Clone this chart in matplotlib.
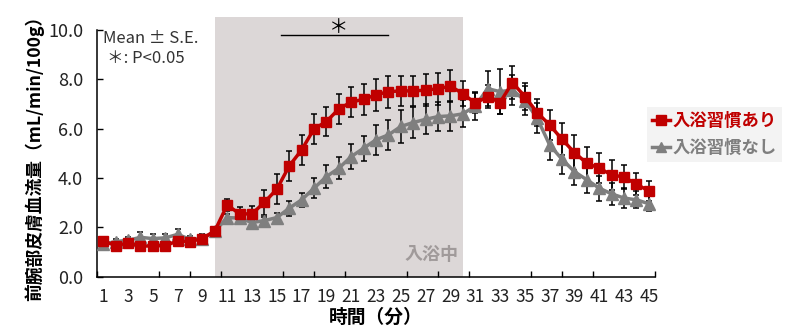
import matplotlib
matplotlib.use("Agg")
import matplotlib.pyplot as plt
from matplotlib.lines import Line2D
from matplotlib.patches import Rectangle
import numpy as np

plt.rcParams['font.family'] = ['Noto Sans CJK JP', 'DejaVu Sans']

# data (minutes 1..45)
minutes = list(range(1, 46))
with_habit = [1.45, 1.27, 1.37, 1.25, 1.25, 1.27, 1.45, 1.43, 1.55, 1.86,
              2.91, 2.55, 2.55, 3.02, 3.55, 4.49, 5.14, 5.99, 6.29, 6.80,
              7.08, 7.19, 7.37, 7.50, 7.53, 7.53, 7.56, 7.62, 7.72, 7.42,
              7.03, 7.30, 7.06, 7.87, 7.30, 6.65, 6.15, 5.57, 5.03, 4.60,
              4.40, 4.13, 4.04, 3.75, 3.48]
with_habit_se = [0.15, 0.15, 0.12, 0.20, 0.20, 0.20, 0.15, 0.12, 0.12, 0.10,
                 0.24, 0.29, 0.30, 0.50, 0.60, 0.60, 0.60, 0.60, 0.60, 0.60,
                 0.60, 0.62, 0.65, 0.65, 0.62, 0.62, 0.65, 0.65, 0.65, 0.50,
                 0.40, 0.45, 0.45, 0.65, 0.55, 0.55, 0.60, 0.65, 0.70, 0.65,
                 0.60, 0.60, 0.50, 0.45, 0.40]
no_habit = [1.32, 1.43, 1.48, 1.60, 1.55, 1.58, 1.72, 1.52, 1.55, 1.85,
            2.40, 2.38, 2.20, 2.28, 2.40, 2.78, 3.12, 3.59, 4.06, 4.40,
            4.87, 5.21, 5.55, 5.75, 6.09, 6.25, 6.38, 6.49, 6.52, 6.60,
            6.92, 7.62, 7.50, 7.57, 7.14, 6.42, 5.34, 4.76, 4.26, 3.93,
            3.59, 3.36, 3.19, 3.12, 2.96]
no_habit_se = [0.10, 0.12, 0.15, 0.20, 0.18, 0.15, 0.20, 0.15, 0.20, 0.10,
               0.15, 0.20, 0.15, 0.15, 0.20, 0.30, 0.28, 0.40, 0.47, 0.45,
               0.50, 0.50, 0.60, 0.60, 0.65, 0.62, 0.60, 0.60, 0.60, 0.55,
               0.55, 0.70, 0.90, 0.60, 0.60, 0.60, 0.60, 0.60, 0.55, 0.55,
               0.50, 0.45, 0.40, 0.35, 0.30]
bath_start, bath_end = 10, 30
sig_start, sig_end = 15.3, 24
labels = ['入浴習慣あり', '入浴習慣なし']

red = '#C00000'
gray = '#7F7F7F'

fig = plt.figure(figsize=(7.95, 3.36), dpi=100)
ax = fig.add_axes([0.122, 0.176, 0.702, 0.735])

# bathing period shading (extends a bit above the axis top)
ax.add_patch(Rectangle((bath_start, 0), bath_end - bath_start, 10.53,
                       facecolor='#DCD7D7', edgecolor='none', zorder=0, clip_on=False))
ax.text(27.5, 0.9, '入浴中', color='#A09A9A',
        fontsize=13, fontweight='bold', ha='center', va='center')

ax.errorbar(minutes, no_habit, yerr=no_habit_se, fmt='none', ecolor='black',
            elinewidth=1.1, capsize=2.5, capthick=1.1, zorder=2)
ax.errorbar(minutes, with_habit, yerr=with_habit_se, fmt='none', ecolor='black',
            elinewidth=1.1, capsize=2.5, capthick=1.1, zorder=2)
ax.plot(minutes, no_habit, color=gray, lw=2.5, marker='^', ms=8, zorder=3)
ax.plot(minutes, with_habit, color=red, lw=2.5, marker='s', ms=7.5, zorder=4)

# significance bar
ax.plot([sig_start, sig_end], [9.8, 9.8], color='black', lw=1)
ax.text(20, 10.1, '＊', fontsize=14, ha='center', va='center')

ax.text(1.0, 9.65, 'Mean ± S.E.', fontsize=12, ha='left', va='center', color='#333333')
ax.text(1.3, 8.85, '＊: P<0.05', fontsize=12, ha='left', va='center', color='#333333')

ax.set_xlim(0.5, 45.5)
ax.set_ylim(0, 10)
ax.set_xticks(minutes[::2])
ax.set_xticklabels([str(m) for m in minutes[::2]])
ax.set_xticks(np.linspace(0.5, 45.5, 19), minor=True)
ax.tick_params(axis='x', which='major', length=0, labelsize=12.5, pad=8, labelcolor='#222222')
ax.tick_params(axis='x', which='minor', direction='in', length=4.5, width=1)
ax.set_yticks(np.arange(0, 10.1, 2))
ax.set_yticklabels(['%.1f' % v for v in np.arange(0, 10.1, 2)])
ax.tick_params(axis='y', direction='in', length=4.5, width=1, labelsize=13, pad=10,
               labelcolor='#222222')
for s in ['top', 'right']:
    ax.spines[s].set_visible(False)
for s in ['left', 'bottom']:
    ax.spines[s].set_linewidth(1.1)

ax.set_xlabel('時間（分）', fontsize=13.5, fontweight='bold', labelpad=1)
ax.set_ylabel('前腕部皮膚血流量（mL/min/100g）', fontsize=12.8, fontweight='bold', labelpad=3)

handles = [Line2D([], [], color=red, lw=2.5, marker='s', ms=7),
           Line2D([], [], color=gray, lw=2.5, marker='^', ms=7.5)]
leg = fig.legend(handles, labels, loc='center left', bbox_to_anchor=(0.814, 0.6),
                 frameon=True, fancybox=False, facecolor='#F0F0F0', edgecolor='none',
                 handlelength=1.0, handletextpad=0.15, prop={'size': 12.5, 'weight': 'bold'},
                 labelspacing=0.5, borderpad=0.3, borderaxespad=0)
for t, c in zip(leg.get_texts(), [red, gray]):
    t.set_color(c)

fig.savefig('out.png', dpi=100)
